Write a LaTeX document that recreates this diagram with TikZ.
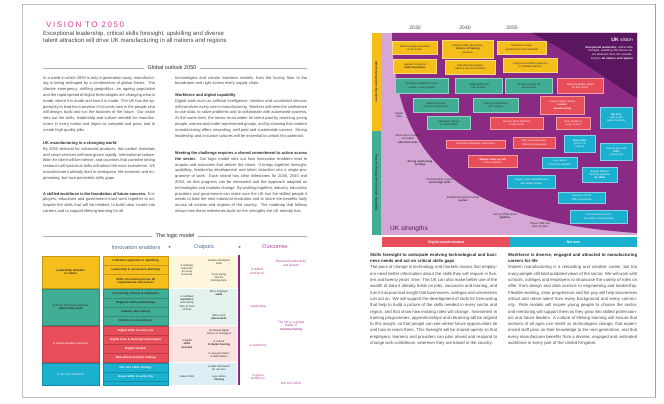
\documentclass[tikz,border=0pt]{standalone}
\usepackage{fontspec}
\setmainfont{Liberation Sans}
\newfontfamily\symfont{DejaVu Sans}
\newfontfamily\titlefont[LetterSpace=20]{Liberation Sans}

\definecolor{cgold}{HTML}{F5BE1A}
\definecolor{cteal}{HTML}{40AD94}
\definecolor{cred}{HTML}{E84E5A}
\definecolor{cblue}{HTML}{1BAFD0}
\definecolor{cpurple}{HTML}{8B2A84}
\definecolor{cdpurple}{HTML}{5A1760}
\definecolor{clilac}{HTML}{D6A6D6}
\definecolor{cpink}{HTML}{D7418F}
\definecolor{ctext}{HTML}{4A4A4A}
\definecolor{cdark}{HTML}{2E2E2E}
\definecolor{ccream}{HTML}{FDF5DC}
\definecolor{cmint}{HTML}{E3F2EC}
\definecolor{clpink}{HTML}{FBE1E0}
\definecolor{clblue}{HTML}{DCEFF5}
\definecolor{crule}{HTML}{B9A3B8}
\definecolor{cslate}{HTML}{4E6E8A}
\definecolor{coutc}{HTML}{B0479B}

% box from (x1,y1) to (x2,y2): name, x1, y1, x2, y2, style, text
\newcommand\cbox[7]{%
  \pgfmathsetmacro\cbw{#4-#2}\pgfmathsetmacro\cbh{#5-#3}\pgfmathsetmacro\cbt{#4-#2-2.4}%
  \node[#6, anchor=north west, minimum width=\cbw pt, minimum height=\cbh pt,
        text width=\cbt pt] (#1) at (#2,#3) {#7};}

\begin{document}
\begin{tikzpicture}[x=1pt,y=-1pt,
  body/.style={anchor=north west, inner sep=0, align=justify, text=ctext,
               font=\fontsize{4.0}{5.8}\selectfont},
  bodyr/.style={body, font=\fontsize{4.3}{6.3}\selectfont},
  cb/.style={fill=#1, draw=#1!55!white, line width=0.6pt, inner xsep=1.2pt,
             inner ysep=0.3pt, align=center, text=cdark,
             font=\fontsize{2.6}{3.1}\selectfont},
  cbw/.style={cb=#1, text=white},
  tb/.style={fill=#1, draw=#1!80!black, line width=0.4pt, inner xsep=1.2pt,
             inner ysep=0.3pt, align=center, text=cdark,
             font=\fontsize{2.9}{3.4}\selectfont},
  tbw/.style={tb=#1, text=white},
  lab/.style={align=center, inner sep=0, text=cdark, font=\fontsize{2.7}{3.2}\selectfont},
  outc/.style={align=center, inner sep=0, text=coutc, font=\fontsize{3.2}{3.8}\selectfont},
  head/.style={fill=white, inner xsep=3pt, inner ysep=0, text=cdark,
               font=\fontsize{5.5}{6}\selectfont},
  hrule/.style={draw=crule, line width=0.5pt}]

\useasboundingbox (0,0) rectangle (664,404);
\fill[white] (0,0) rectangle (664,404);

% ---------- spread frame ----------
\draw[gray!50, line width=0.7pt] (22,4) rectangle (655,397);
\draw[gray!75, line width=1.3pt] (655.5,4) -- (655.5,397);

% ---------- left page: title block ----------
\node[anchor=west, inner sep=0, text=cpink, font=\titlefont\fontsize{8}{9}\selectfont] (title) at (46,25) {VISION TO 2050};
\node[anchor=north west, inner sep=0, align=left, text=ctext, font=\fontsize{6}{7.4}\selectfont] (subtitle) at (43,31)
  {Exceptional leadership, critical skills foresight, upskilling and diverse\\talent attraction will drive UK manufacturing in all nations and regions};

% ---------- Global outlook ----------
\node[head] (gohead) at (172,68) {Global outlook 2050};
\coordinate (gol) at (43,68);
\coordinate (gor) at (307,68);
\draw[hrule] (gol) -- (gohead.west);
\draw[hrule] (gohead.east) -- (gor);

\node[body, text width=112pt] (c1p1) at (43,76)
 {In a world in which 2050 is only a generation away, manufacturing is being reshaped by a combination of global forces. The climate emergency, shifting geopolitics, an ageing population and the rapid spread of digital technologies are changing what is made, where it is made and how it is made. The UK has the opportunity to lead this transition if it invests now in the people who will design, build and run the factories of the future. Our vision sets out the skills, leadership and culture needed for manufacturers in every nation and region to compete and grow, and to create high quality jobs.};
\node[body, text width=112pt, text=cdark] (c1h) at (43,141.5) {\textbf{UK manufacturing in a changing world}};
\node[body, text width=112pt] (c1p2) at (43,147.3)
 {By 2050 demand for advanced products, low carbon materials and smart services will have grown rapidly. International competition for talent will be intense, and countries that combine strong research with practical skills will attract the most investment. UK manufacturers already lead in aerospace, life sciences and engineering, but face persistent skills gaps.};
\node[body, text width=112pt] (c1p3) at (43,192)
 {\textbf{\color{cdark}A skilled workforce is the foundation of future success.} Employers, educators and government must work together to anticipate the skills that will be needed, to build clear routes into careers and to support lifelong learning for all.};

\node[body, text width=132pt] (c2p1) at (175,76)
 {technologies and circular business models, from the factory floor to the boardroom and right across every supply chain.};
\node[body, text width=132pt, text=cdark] (c2h) at (175,93.5) {\textbf{Workforce and digital capability}};
\node[body, text width=132pt] (c2p2) at (175,99.3)
 {Digital tools such as artificial intelligence, robotics and connected sensors will transform every role in manufacturing. Workers will need the confidence to use data, to solve problems and to collaborate with automated systems. At the same time, the sector must widen its talent pool by reaching young people, women and under-represented groups, and by showing that modern manufacturing offers rewarding, well paid and sustainable careers. Strong leadership and inclusive cultures will be essential to unlock this potential.};
\node[body, text width=132pt] (c2p3) at (175,151.5)
 {\textbf{\color{cdark}Meeting the challenge requires a shared commitment to action across the sector.} Our logic model sets out how innovation enablers lead to outputs and outcomes that deliver the vision. It brings together foresight, upskilling, leadership development and talent attraction into a single programme of work. Each strand has clear milestones for 2030, 2040 and 2050, so that progress can be measured and the approach adapted as technologies and markets change. By working together, industry, education providers and government can make sure the UK has the skilled people it needs to lead the next industrial revolution and to share the benefits fairly across all nations and regions of the country. The roadmap that follows shows how these milestones build on the strengths the UK already has.};

% ---------- The logic model ----------
\node[head] (lmhead) at (175,236) {The logic model};
\coordinate (lml) at (43,236);
\coordinate (lmr) at (307,236);
\draw[hrule] (lml) -- (lmhead.west);
\draw[hrule] (lmhead.east) -- (lmr);

\node[inner sep=0, text=cslate, font=\fontsize{5.6}{6}\selectfont] (hinn) at (136,247) {Innovation enablers};
\node[inner sep=0, text=cslate, font=\symfont\fontsize{4.5}{5}\selectfont] (harr1) at (170,247) {▸};
\node[inner sep=0, text=cslate, font=\fontsize{5.6}{6}\selectfont] (hout) at (204,247) {Outputs};
\node[inner sep=0, text=cslate, font=\symfont\fontsize{4.5}{5}\selectfont] (harr2) at (240,247) {▸};
\node[inner sep=0, text=coutc, font=\fontsize{5.6}{6}\selectfont] (hocm) at (275,247) {Outcomes};

% column 1: enabler groups
\cbox{e1}{42}{256}{99}{288}{tb=cgold}{\textbf{Leadership attitudes\\ \& culture}}
\cbox{e2}{42}{289}{99}{325}{tb=cteal}{Schools and local employer\\ \textbf{partnership work}}
\cbox{e3}{42}{326}{99}{362}{tbw=cred}{A digital-capable workforce}
\cbox{e4}{42}{363}{99}{385}{tbw=cblue}{A net zero workforce}

% column 2: enablers
\cbox{y1}{103}{256}{168}{265}{tb=cgold}{\textbf{Collective approach to upskilling}}
\cbox{y2}{103}{265}{168}{274}{tb=cgold}{\textbf{Leadership \& succession planning}}
\cbox{y3}{103}{274}{168}{288}{tb=cgold}{\textbf{Skills forecasting across all\\ organisations and sectors}}
\cbox{t1}{103}{289}{168}{298}{tb=cteal}{\textbf{Connecting schools \& employers}}
\cbox{t2}{103}{298}{168}{307}{tb=cteal}{\textbf{Regional skills partnerships}}
\cbox{t3}{103}{307}{168}{316}{tb=cteal}{\textbf{Industry led training}}
\cbox{t4}{103}{316}{168}{325}{tb=cteal}{\textbf{Flexible course delivery}}
\cbox{r1}{103}{326}{168}{335}{tbw=cred}{\textbf{Digital skills in every role}}
\cbox{r2}{103}{335}{168}{344}{tbw=cred}{\textbf{Digital tools \& learning technologies}}
\cbox{r3}{103}{344}{168}{353}{tbw=cred}{\textbf{Digital mindset}}
\cbox{r4}{103}{353}{168}{362}{tbw=cred}{\textbf{Data-driven decision making}}
\cbox{b1}{103}{363}{168}{372}{tbw=cblue}{\textbf{Net zero skills strategy}}
\cbox{b2}{103}{372}{168}{381}{tbw=cblue}{\textbf{Green skills in every role}}
\cbox{b3}{103}{381}{168}{385}{tbw=cblue}{}

% columns 3-4: outputs
\fill[ccream] (170,256) rectangle (237,288);
\fill[cmint] (170,289) rectangle (237,325);
\fill[clpink] (170,326) rectangle (237,362);
\fill[clblue] (170,363) rectangle (237,385);

\node[lab] (o1) at (187,270) {A strategic\\ skills plan\\ for every\\ business};
\node[lab] (o2) at (219,262) {Leaders champion\\ skills};
\node[lab] (o3) at (219,278) {Forecasting\\ informs\\ training plans};
\node[lab] (o4) at (187,303) {A confident\\ \textbf{workforce}\\ with strong\\ links to local\\ schools};
\node[lab] (o5) at (219,293) {More employer\\ \textbf{visits}};
\node[lab] (o6) at (219,317) {More work\\ \textbf{placements}};
\node[lab] (o7) at (187,344) {A digital\\ \textbf{skills}\\ \textbf{baseline}};
\node[lab] (o8) at (219,332) {Increased digital\\ literacy of managers};
\node[lab] (o9) at (219,343) {A culture\\ \textbf{of digital learning}};
\node[lab] (o10) at (219,355) {A new generation\\ of data leaders};
\node[lab] (o11) at (187,377) {Green skills};
\node[lab] (o12) at (219,368) {A skills framework\\ for net zero};
\node[lab] (o13) at (219,378) {Low carbon\\ \textbf{training}};

% outcome axis
\coordinate (ax1) at (239,255);
\coordinate (ax2) at (239,385);
\draw[cpurple, line width=1.2pt] (ax1) -- (ax2);

\node[outc] (u1) at (257,271) {A skilled\\ workforce};
\node[outc] (u2) at (258,307) {Leadership};
\node[outc] (u3) at (258,345) {A workforce};
\node[outc] (u4) at (258,377) {A green\\ workforce};
\node[outc] (v1) at (291,264) {Improved productivity\\ and growth};
\node[outc] (v2) at (291,326) {The UK is a global\\ leader in\\ \textbf{manufacturing}};
\node[outc] (v3) at (291,383) {Net zero 2050};

% ---------- right page: roadmap ----------
\node[inner sep=0, text=ctext, font=\fontsize{5}{5}\selectfont] (y2030) at (415,28) {2030};
\node[inner sep=0, text=ctext, font=\fontsize{5}{5}\selectfont] (y2040) at (465,28) {2040};
\node[inner sep=0, text=ctext, font=\fontsize{5}{5}\selectfont] (y2050) at (512,28) {2050};

\fill[clilac] (381,33) rectangle (637,235);
\fill[cpurple] (392,33) .. controls (394,165) and (470,222) .. (637,233) -- (637,33) -- cycle;
\fill[cdpurple] (532,33) .. controls (575,55) and (610,82) .. (637,98) -- (637,33) -- cycle;
\fill[cgold] (372,33) rectangle (381,131);
\fill[cteal] (372,131) rectangle (381,235);
\node[rotate=90, inner sep=0, text=cdark, font=\fontsize{2.8}{3}\selectfont] (s1) at (376.5,82) {\textbf{Leadership and skills foresight}};
\node[rotate=90, inner sep=0, text=cdark, font=\fontsize{2.8}{3}\selectfont] (s2) at (376.5,183) {\textbf{Upskilling, attraction and lifelong learning}};

% yellow milestones
\cbox{m1}{392}{41}{437}{54}{cb=cgold}{Skills foresight embedded\\ in all sectors}
\cbox{m2}{442}{40}{493}{58}{cb=cgold}{National skills observatory\\ \textbf{informs all training}\\ provision}
\cbox{m3}{497}{41}{546}{54}{cb=cgold}{Employers shape\\ qualifications and standards}
\cbox{m4}{393}{59}{436}{73}{cb=cgold}{Leaders champion\\ \textbf{skills investment}}
\cbox{m5}{445}{60}{495}{74}{cb=cgold}{Manufacturing leaders\\ reflect a diverse workforce}
\cbox{m6}{503}{58}{557}{72}{cb=cgold}{Long-term workforce planning\\ is standard practice}
% teal milestones
\cbox{m7}{395}{78}{448}{93}{cb=cteal}{Upskilling available to every\\ worker in every region}
\cbox{m8}{455}{78}{502}{93}{cb=cteal}{Digital skills built\\ into all roles}
\cbox{m9}{505}{78}{552}{93}{cb=cteal}{Flexible learning fits\\ around work}
\cbox{m10}{413}{98}{458}{112}{cb=cteal}{Lifelong learning\\ accounts widely used}
\cbox{m11}{473}{98}{518}{112}{cb=cteal}{Training partnerships\\ with colleges}
\cbox{m12}{427}{116}{470}{129}{cb=cteal}{Managers trained\\ to coach teams}
% red milestones
\cbox{m13}{557}{78}{603}{93}{cbw=cred}{Apprenticeships valued\\ as first choice}
\cbox{m14}{540}{96}{584}{114}{cbw=cred}{Careers advice shows\\ \textbf{modern}\\ \textbf{manufacturing}}
\cbox{m15}{490}{117}{543}{129}{cbw=cred}{Diverse talent attracted\\ to the sector}
\cbox{m16}{556}{117}{590}{129}{cbw=cred}{Role models in\\ every school}
\cbox{m17}{446}{140}{505}{148}{cbw=cred}{Inclusive workplaces retain talent}
\cbox{m18}{513}{137}{555}{148}{cbw=cred}{Pay and progression\\ attract young people}
\cbox{m19}{468}{155}{517}{167}{cbw=cred}{\textbf{Women make up half}\\ of the workforce}
% blue milestones
\cbox{m20}{600}{107}{632}{128}{cbw=cblue}{\textbf{Net zero}\\ skills at the\\ heart of industry}
\cbox{m21}{564}{135}{595}{152}{cbw=cblue}{\textbf{Green jobs}\\ grow in all\\ regions}
\cbox{m22}{600}{143}{632}{160}{cbw=cblue}{Circular economy\\ \textbf{skills}\\ widespread}
\cbox{m23}{542}{157}{577}{168}{cbw=cblue}{Low carbon\\ processes adopted}
\cbox{m24}{582}{167}{617}{182}{cbw=cblue}{Energy efficient\\ factories powered\\ \textbf{by skills}}
\cbox{m25}{507}{175}{555}{188}{cbw=cblue}{Supply chains decarbonised\\ with skilled people}
\cbox{m26}{558}{192}{605}{203}{cbw=cblue}{Net zero retrofit\\ skills everywhere}
\cbox{m27}{570}{210}{627}{223}{cbw=cblue}{UK leads the world in\\ low carbon manufacturing}

% strengths
\node[lab] (k1) at (399,115) {Digital\\ skills};
\node[lab] (k2) at (408,139) {World-class research\\ and higher\\ \textbf{education base}};
\node[lab] (k3) at (420,163) {\textbf{Strong engineering}\\ \textbf{heritage}};
\node[lab] (k4) at (440,181) {World-leading creative\\ \textbf{and design skills}};
\node[lab] (k5) at (463,199) {Established apprenticeship\\ \textbf{system}};
\node[lab] (k6) at (505,216) {Strong STEM talent\\ \textbf{pipeline}};
\node[lab] (k7) at (540,225) {Vibrant SME and\\ start-up base};
\node[anchor=west, inner sep=0, text=cdpurple, font=\fontsize{6.5}{7}\selectfont] (kst) at (390,229) {UK strengths};

% vision
\node[anchor=north east, inner sep=0, text=white, font=\fontsize{5}{5.5}\selectfont] (vt) at (633,38) {\textbf{UK} vision};
\node[anchor=north east, inner sep=0, align=right, text width=58pt, text=white, font=\fontsize{2.8}{3.7}\selectfont] (vb) at (633,46)
 {\textbf{Exceptional leadership,} critical skills foresight, upskilling and diverse talent attraction drive UK manufacturing in \textbf{all nations and regions}};

% themes
\node[fill=cred, minimum width=128pt, minimum height=10pt, inner sep=0, anchor=north west, text=white, font=\fontsize{3.5}{4}\selectfont] (th1) at (382,237) {\textbf{Digital transformation}};
\node[fill=cblue, minimum width=127pt, minimum height=10pt, inner sep=0, anchor=north west, text=white, font=\fontsize{3.5}{4}\selectfont] (th2) at (510,237) {\textbf{Net zero}};

% ---------- right page text ----------
\node[bodyr, text width=127pt] (ra) at (370,253)
 {\textbf{\color{cdark}Skills foresight to anticipate evolving technological and business needs and act on critical skills gaps}\\
 The pace of change in technology and markets means that employers need better information about the skills they will require in five, ten and twenty years' time. The UK can also make better use of the wealth of data it already holds on jobs, vacancies and training, and turn it into practical insight that businesses, colleges and universities can act on. We will support the development of tools for forecasting that help to build a picture of the skills needed in every sector and region, and that show how existing roles will change. Investment in training programmes, apprenticeships and retraining will be aligned to this insight, so that people can see where future opportunities lie and how to reach them. This foresight will be shared openly so that employers, learners and providers can plan ahead and respond to change with confidence, wherever they are based in the country.};
\node[bodyr, text width=129pt] (rb) at (508,253)
 {\textbf{\color{cdark}Workforce is diverse, engaged and attracted to manufacturing careers for life}\\
 Modern manufacturing is a rewarding and creative career, but too many people still hold outdated views of the sector. We will work with schools, colleges and employers to showcase the variety of roles on offer, from design and data science to engineering and leadership. Flexible working, clear progression and fair pay will help businesses attract and retain talent from every background and every community. Role models will inspire young people to choose the sector, and mentoring will support them as they grow into skilled professionals and future leaders. A culture of lifelong learning will ensure that workers of all ages can reskill as technologies change, that experienced staff pass on their knowledge to the next generation, and that every manufacturer benefits from a diverse, engaged and motivated workforce in every part of the United Kingdom.};

\end{tikzpicture}
\end{document}
